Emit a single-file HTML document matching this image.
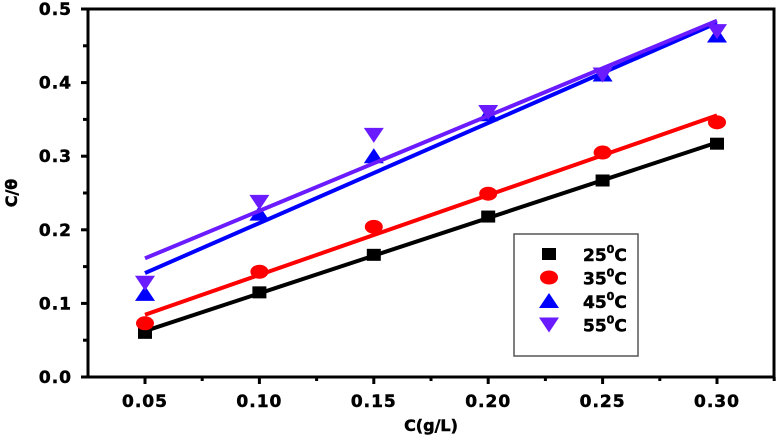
<!DOCTYPE html>
<html><head><meta charset="utf-8"><style>
body{margin:0;background:#fff}
svg text{font-family:"DejaVu Sans","Liberation Sans",Arial,sans-serif;font-weight:bold;stroke:#000;stroke-width:0.5}
</style></head><body>
<svg id="c" width="779" height="438" xmlns="http://www.w3.org/2000/svg"></svg>
<script>
const xVals=[0.05,0.10,0.15,0.20,0.25,0.30];
const s25=[0.060,0.115,0.166,0.218,0.267,0.317];
const s35=[0.073,0.143,0.204,0.249,0.305,0.346];
const s45=[0.113,0.222,0.300,0.357,0.411,0.464];
const s55=[0.128,0.238,0.329,0.360,0.411,0.470];
const xTicks=[0.05,0.10,0.15,0.20,0.25,0.30];
const yTicks=[0.0,0.1,0.2,0.3,0.4,0.5];
const seriesNames=["25","35","45","55"];
const NS="http://www.w3.org/2000/svg";
const svg=document.getElementById('c');
const X=v=>145+(v-0.05)/0.05*114.4;
const Y=v=>377-v/0.1*73.6;
function el(t,a,p){const e=document.createElementNS(NS,t);for(const k in a)e.setAttribute(k,a[k]);(p||svg).appendChild(e);return e;}
let f=el('rect',{x:88,y:9,width:686,height:368,fill:'none',stroke:'#000','stroke-width':3});

for(let i=0;i<xTicks.length;i++){const v=xTicks[i];
 let t=el('line',{x1:X(v),x2:X(v),y1:377,y2:384,stroke:'#000','stroke-width':3});
 
 let m=el('line',{x1:X(v+0.025),x2:X(v+0.025),y1:377,y2:381,stroke:'#000','stroke-width':3});
 
 let l=el('text',{x:X(v),y:407,'text-anchor':'middle','font-size':17,'letter-spacing':1});l.textContent=v.toFixed(2);
 }
for(let i=0;i<yTicks.length;i++){const v=yTicks[i];
 let t=el('line',{x1:81,x2:88,y1:Y(v),y2:Y(v),stroke:'#000','stroke-width':3});
 
 if(v<0.5){let m=el('line',{x1:83,x2:88,y1:Y(v+0.05),y2:Y(v+0.05),stroke:'#000','stroke-width':3});
 }
 let l=el('text',{x:72,y:Y(v)+6,'text-anchor':'end','font-size':17,'letter-spacing':1});l.textContent=v.toFixed(1);
 }
let xt=el('text',{x:431,y:431,'text-anchor':'middle','font-size':16});xt.textContent='C(g/L)';

let yt=el('text',{x:0,y:0,'text-anchor':'middle','font-size':16,transform:'translate(17,193) rotate(-90)'});yt.textContent='C/θ';

const data=[s25,s35,s45,s55];const cols=['#000','#ff0000','#0000ff','#6a1bff'];
function marker(k,cx,cy){let e;
 if(k==0)e=el('rect',{x:cx-7,y:cy-6,width:14,height:12,fill:cols[k]});
 else if(k==1)e=el('ellipse',{cx:cx,cy:cy,rx:9,ry:7,fill:cols[k]});
 else if(k==2)e=el('polygon',{points:`${cx-10},${cy+7} ${cx+10},${cy+7} ${cx},${cy-8}`,fill:cols[k]});
 else e=el('polygon',{points:`${cx-10},${cy-7} ${cx+10},${cy-7} ${cx},${cy+8}`,fill:cols[k]});
 return e;}
for(let k=0;k<4;k++){const ys=data[k];const n=xVals.length;
 let mx=0,my=0;for(let i=0;i<n;i++){mx+=xVals[i];my+=ys[i];}mx/=n;my/=n;
 let sxy=0,sxx=0;for(let i=0;i<n;i++){sxy+=(xVals[i]-mx)*(ys[i]-my);sxx+=(xVals[i]-mx)**2;}
 const b=sxy/sxx,a=my-b*mx;const x0=xVals[0],x1=xVals[n-1];
 let ln=el('line',{x1:X(x0),y1:Y(a+b*x0),x2:X(x1),y2:Y(a+b*x1),stroke:cols[k],'stroke-width':4});
 
 for(let i=0;i<n;i++){let m=marker(k,X(xVals[i]),Y(ys[i]));
  }}
let lg=el('rect',{x:514,y:234,width:124,height:122,fill:'#fff',stroke:'#555','stroke-width':1.5});

for(let k=0;k<4;k++){const cy=254+k*23.5;
 let m=marker(k,549,cy);
 let t=el('text',{x:583,y:cy+7,'font-size':17});
 t.innerHTML=seriesNames[k]+'<tspan dy="-8" font-size="11">0</tspan><tspan dy="8">C</tspan>';
 }
</script>
</body></html>
